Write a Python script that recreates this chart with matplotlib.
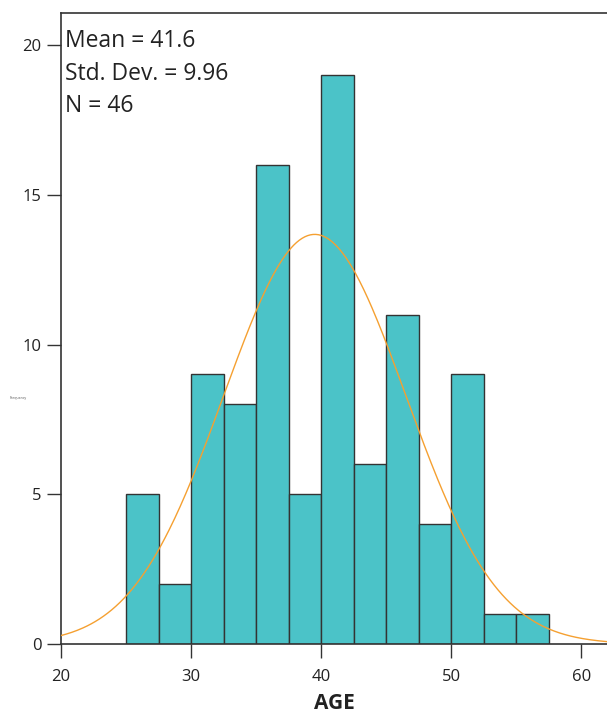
import numpy as np
import matplotlib.pyplot as plt

# Histogram data (bin width 2.5, starting at 25)
bin_edges = [25, 27.5, 30, 32.5, 35, 37.5, 40, 42.5, 45, 47.5, 50, 52.5, 55, 57.5]
counts = [5, 2, 9, 8, 16, 5, 19, 6, 11, 4, 9, 1, 1]

# Fitted normal curve as drawn
curve_mu = 39.5
curve_sigma = 7.0
curve_total = 96
bin_width = 2.5

stats_text = ["Mean = 41.6", "Std. Dev. = 9.96", "N = 46"]
x_ticks = [20, 30, 40, 50, 60]
y_ticks = [0, 5, 10, 15, 20]

plt.rcParams['font.family'] = ['Open Sans', 'DejaVu Sans']

fig = plt.figure(figsize=(6.07, 7.15), dpi=100)
ax = fig.add_axes([0.1005, 0.0993, 0.8995, 0.8825])

ax.bar(bin_edges[:-1], counts, width=np.diff(bin_edges), align='edge',
       color='#4bc3c8', edgecolor='#333333', linewidth=1.0, zorder=2)

xs = np.linspace(20, 62, 400)
ys = curve_total * bin_width * np.exp(-(xs - curve_mu) ** 2 / (2 * curve_sigma ** 2)) / (curve_sigma * np.sqrt(2 * np.pi))
ax.plot(xs, ys, color='#f5a031', linewidth=1.0, zorder=3)

ax.set_xlim(20, 61.96)
ax.set_ylim(0, 21.07)
ax.set_xticks(x_ticks)
ax.set_yticks(y_ticks)
ax.tick_params(direction='out', length=10, width=1, color='#333333',
               labelsize=12, labelcolor='#222222', pad=4)
ax.tick_params(axis='x', pad=8)

for side in ['right']:
    ax.spines[side].set_visible(False)
for side in ['left', 'bottom', 'top']:
    ax.spines[side].set_color('#333333')
    ax.spines[side].set_linewidth(1.2)

ax.set_xlabel('AGE', fontsize=15, fontweight='bold', color='#222222', labelpad=6)

# tiny horizontal y label
fig.text(0.03, 0.443, 'Frequency', fontsize=2.5, color='#555555', ha='center', va='center')

for i, line in enumerate(stats_text):
    ax.text(0.008, 0.975 - i * 0.052, line, transform=ax.transAxes,
            fontsize=16.5, color='#222222', ha='left', va='top')

fig.savefig('out.png', dpi=100)
